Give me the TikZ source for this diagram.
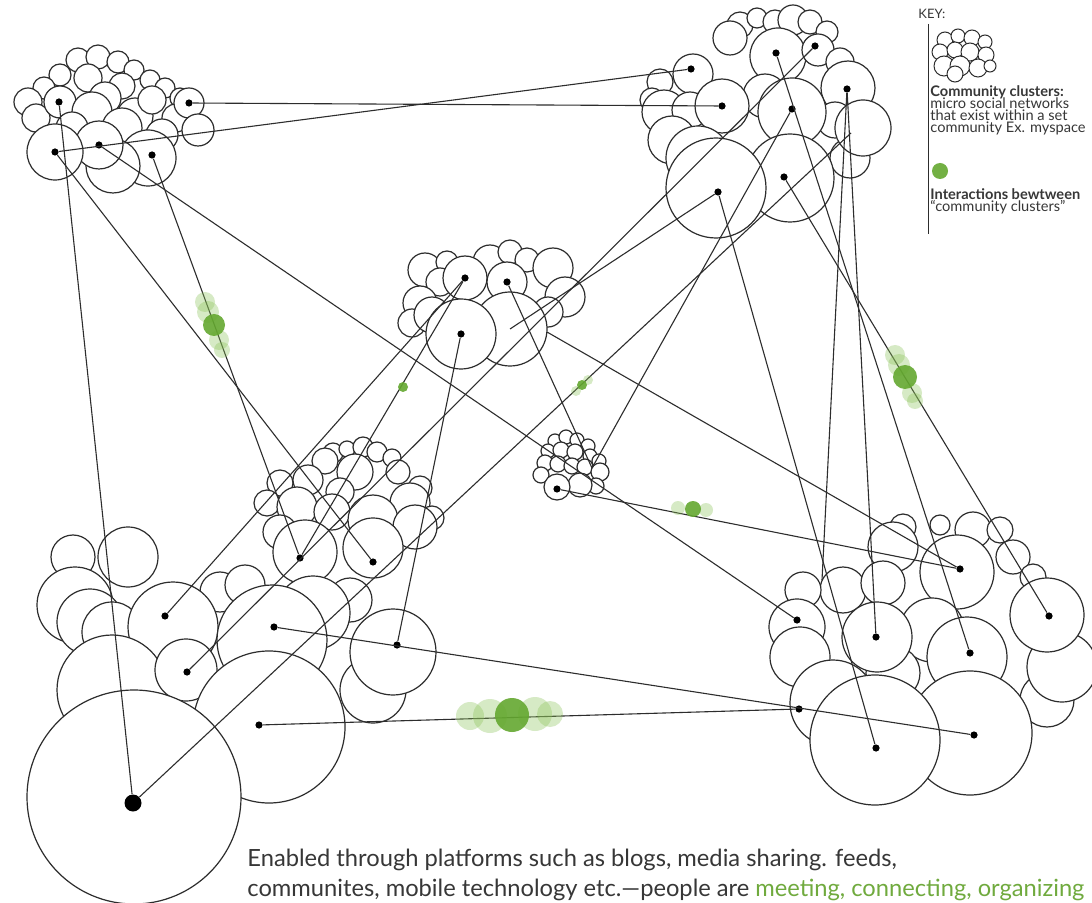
\documentclass[tikz,border=0pt]{standalone}
\usepackage{fontspec}
\setmainfont{Lato}
\usetikzlibrary{backgrounds}
\definecolor{inkgray}{RGB}{45,45,45}
\definecolor{blobgreen}{RGB}{100,168,48}
\definecolor{halogreen}{RGB}{140,195,90}
\definecolor{textgray}{RGB}{55,55,55}
\definecolor{textgreen}{RGB}{112,170,62}
\begin{document}
\begin{tikzpicture}[x=0.5pt,y=-0.5pt,
		bubble/.style={draw=inkgray, fill=white, line width=0.6pt},
		hub/.style={circle, fill=black, inner sep=0pt, minimum size=3.6pt},
		bighub/.style={hub, minimum size=8.5pt},
		link/.style={draw=inkgray, line width=0.55pt},
		halo/.style={fill=halogreen, fill opacity=0.35},
		blob/.style={fill=blobgreen, fill opacity=0.9},
		keytext/.style={anchor=base west, inner sep=0pt, text=textgray, font=\fontsize{7.3}{8}\selectfont},
		keybold/.style={keytext, font=\fontsize{7.3}{8}\selectfont\bfseries},
		caption/.style={anchor=base west, inner sep=0pt, text=textgray, font=\fontsize{11.85}{14}\selectfont}]
		\useasboundingbox (0,0) rectangle (1092,903);
		% hubs of the clusters
		\node[hub] (tl1) at (59,102) {};
		\node[hub] (tl2) at (55,152) {};
		\node[hub] (tl3) at (99,145) {};
		\node[hub] (tl4) at (152,155) {};
		\node[hub] (tl5) at (189,103) {};
		\node[hub] (tr1) at (691,69) {};
		\node[hub] (tr2) at (776,53) {};
		\node[hub] (tr3) at (815,46) {};
		\node[hub] (tr4) at (722,106) {};
		\node[hub] (tr5) at (792,109) {};
		\node[hub] (tr6) at (847,89) {};
		\node[hub] (tr7) at (718,192) {};
		\node[hub] (tr8) at (784,177) {};
		\coordinate (trx) at (851,133);
		\node[hub] (cc1) at (465,278) {};
		\node[hub] (cc2) at (507,282) {};
		\node[hub] (cc3) at (461,334) {};
		\coordinate (ccx) at (510,329);
		\coordinate (ccy) at (547,332);
		\node[hub] (sc1) at (557,489) {};
		\coordinate (scx) at (592,468);
		\node[hub] (ml1) at (300,558) {};
		\node[hub] (ml2) at (373,562) {};
		\node[hub] (bl1) at (165,616) {};
		\node[hub] (bl2) at (274,627) {};
		\node[hub] (bl3) at (397,645) {};
		\node[hub] (bl4) at (187,672) {};
		\node[hub] (bl5) at (259,725) {};
		\node[bighub] (big) at (133,803) {};
		\node[hub] (br1) at (960,569) {};
		\node[hub] (br2) at (797,620) {};
		\node[hub] (br3) at (876,637) {};
		\node[hub] (br4) at (970,653) {};
		\node[hub] (br5) at (1049,616) {};
		\node[hub] (br6) at (799,709) {};
		\node[hub] (br7) at (876,748) {};
		\node[hub] (br8) at (974,735) {};
		\coordinate (brx) at (822,580);
		% clusters, back to front
		\begin{scope}[on background layer]
		\fill[white] (0,0) rectangle (1092,903);
		\foreach \x/\y/\r in {78/60/12, 98/57/12, 118/62/11, 134/70/10, 60/75/11, 44/88/11, 150/80/10, 165/88/10, 28/102/14, 88/78/14, 122/86/13, 105/98/16, 180/98/10,
			36/118/14, 60/102/16, 92/112/20, 135/116/18, 152/100/14, 176/118/14, 189/103/15, 198/130/16, 162/135/16, 72/128/16, 122/128/20,
			148/158/28, 113/166/27, 99/145/24, 55/152/28}
			\draw[bubble] (\x,\y) circle (\r);
		\foreach \x/\y/\r in {740/25/13, 757/18/10, 775/22/12, 793/20/15, 810/22/12, 827/32/11, 730/38/17, 660/82/13, 693/74/20, 652/100/12, 778/56/28, 818/50/16, 840/62/14,
			664/112/22, 690/110/18, 765/96/22, 722/106/27, 848/88/27, 835/120/18, 672/140/24, 850/158/20,
			792/112/34, 698/158/32, 863/128/28, 790/178/44, 716/188/50}
			\draw[bubble] (\x,\y) circle (\r);
		\foreach \x/\y/\r in {425/270/17, 447/262/11, 490/262/17, 510/252/12, 527/260/12, 440/282/14, 553/268/20, 420/303/17, 465/278/22, 507/282/20,
			565/297/20, 548/312/15, 412/323/14, 432/315/18, 510/329/37, 461/334/35}
			\draw[bubble] (\x,\y) circle (\r);
		\foreach \x/\y/\r in {555/441/7, 566/437/7, 577/440/7, 588/446/7, 548/451/7, 561/450/8, 575/452/8, 590/456/7, 545/463/8, 558/464/8, 572/466/8,
			585/467/8, 599/461/7, 541/475/8, 600/472/9, 596/486/8, 580/485/12, 557/487/13}
			\draw[bubble] (\x,\y) circle (\r);
		\foreach \x/\y/\r in {333/453/10, 347/449/8, 363/447/10, 377/452/10, 392/458/9, 325/461/13, 355/472/18, 398/472/12, 280/483/13, 308/480/15,
			340/492/14, 420/488/12, 267/503/13, 297/507/20, 332/512/18, 410/503/20, 432/518/12, 373/520/25, 415/527/22, 280/532/17, 305/552/32, 373/548/30}
			\draw[bubble] (\x,\y) circle (\r);
		\foreach \x/\y/\r in {73/557/22, 128/557/30, 75/605/38, 220/592/20, 245/585/20, 350/600/22, 90/622/33, 112/632/30, 313/613/37, 173/627/45,
			272/640/55, 373/690/33, 393/652/43, 112/690/55, 186/670/31, 269/727/76, 134/797/107}
			\draw[bubble] (\x,\y) circle (\r);
		\foreach \x/\y/\r in {903/527/13, 940/525/10, 973/530/18, 1000/530/13, 1013/557/17, 1033/577/13, 893/547/25, 843/590/23, 803/590/18, 883/583/22,
			957/572/37, 1047/700/27, 1062/667/35, 1047/615/37, 932/630/32, 797/627/28, 800/657/30, 893/673/27, 877/637/35, 967/657/40, 833/703/43,
			970/733/62, 875/740/65}
			\draw[bubble] (\x,\y) circle (\r);
		\end{scope}
		% connections
		\draw[link] (tl5) -- (tr4);
		\draw[link] (tl2) -- (tr1);
		\draw[link] (tl1) -- (big);
		\draw[link] (tl2) -- (ml2);
		\draw[link] (tl4) -- (ml1);
		\draw[link] (tl3) -- (br2);
		\draw[link] (bl1) -- (cc1);
		\draw[link] (ml1) -- (cc1);
		\draw[link] (cc3) -- (bl3);
		\draw[link] (bl4) -- (tr3);
		\draw[link] (big) -- (trx);
		\draw[link] (tr7) -- (ccx);
		\draw[link] (tr5) -- (scx);
		\draw[link] (cc2) -- (scx);
		\draw[link] (sc1) -- (br1);
		\draw[link] (ccy) -- (br1);
		\draw[link] (tr7) -- (br7);
		\draw[link] (tr6) -- (br3);
		\draw[link] (tr6) -- (brx);
		\draw[link] (tr2) -- (br4);
		\draw[link] (tr8) -- (br5);
		\draw[link] (bl2) -- (br8);
		\draw[link] (bl5) -- (br6);
		% interactions
		\foreach \x/\y/\r in {205/302/10, 208/312/11, 219/340/10, 222/350/8} \fill[halo] (\x,\y) circle (\r);
		\fill[blob] (214,325) circle (11);
		\fill[blob] (403,387) circle (5);
		\foreach \x/\y/\r in {576/391/5, 588/380/5} \fill[halo] (\x,\y) circle (\r);
		\fill[blob] (582,385) circle (5);
		\foreach \x/\y/\r in {678/508/7, 706/510/7} \fill[halo] (\x,\y) circle (\r);
		\fill[blob] (693,509) circle (8);
		\foreach \x/\y/\r in {895/355/10, 899/365/11, 912/393/10, 915/401/8} \fill[halo] (\x,\y) circle (\r);
		\fill[blob] (905,377) circle (12);
		\foreach \x/\y/\r in {470/716/14, 490/716/17, 535/714/17, 550/714/13} \fill[halo] (\x,\y) circle (\r);
		\fill[blob] (512,715) circle (17);
		% key
		\coordinate (keytop) at (928,24);
		\coordinate (keybot) at (928,234);
		\draw[inkgray, line width=0.5pt] (keytop) -- (keybot);
		\node[keytext, font=\fontsize{6.5}{7}\selectfont] (keyhead) at (918,19) {KEY:};
		\foreach \x/\y/\r in {945/40/8, 958/36/7, 972/38/8, 985/42/7, 940/52/8, 955/50/8, 970/52/9, 986/55/8, 944/66/10, 960/66/10, 978/68/9, 990/66/6, 955/74/8}
			\draw[bubble, line width=0.5pt] (\x,\y) circle (\r);
		\node[keybold] (key1) at (930,97) {Community clusters:};
		\node[keytext] (key2) at (930,109) {micro social networks};
		\node[keytext] (key3) at (930,121) {that exist within a set};
		\node[keytext] (key4) at (930,133) {community Ex. myspace};
		\fill[blob] (940,171) circle (8);
		\node[keybold] (key5) at (930,200) {Interactions bewtween};
		\node[keytext] (key6) at (930,212) {“community clusters”};
		% caption
		\node[caption] (cap1) at (247,866) {Enabled through platforms such as blogs, media sharing. feeds,};
		\node[caption] (cap2) at (247,896) {communites, mobile technology etc.—people are \textcolor{textgreen}{meeting, connecting, organizing}};
		\end{tikzpicture}
\end{document}
